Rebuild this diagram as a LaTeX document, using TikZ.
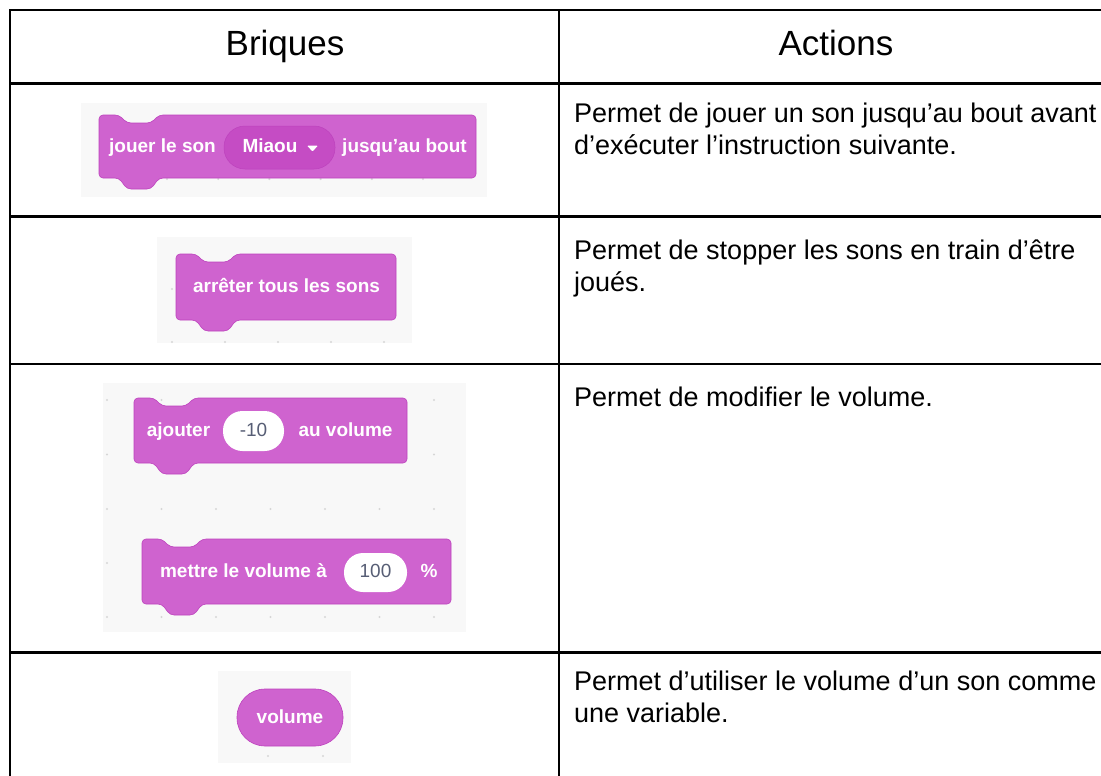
\documentclass[tikz,border=0pt]{standalone}
\usepackage{fontspec}
\setmainfont{Liberation Sans}

\definecolor{sndblock}{HTML}{CF63CF}
\definecolor{sndmenu}{HTML}{C54CC4}
\definecolor{sndedge}{HTML}{BD42BD}
\definecolor{inputtext}{HTML}{575E75}
\definecolor{canvas}{HTML}{F8F8F8}
\definecolor{griddot}{HTML}{D6D6D6}

\tikzset{
  rule/.style={line width=2.8pt, black},
  head/.style={font=\fontsize{35}{40}\selectfont, anchor=base, inner sep=0pt},
  action/.style={font=\fontsize{27}{32}\selectfont, anchor=base west, align=left, inner sep=0pt},
  blockbody/.style={fill=sndblock, draw=sndedge, line width=0.6pt, rounded corners=4pt},
  blocktext/.style={text=white, font=\bfseries\fontsize{19}{20}\selectfont, anchor=base, inner sep=0pt},
  inputtext/.style={text=inputtext, font=\fontsize{19}{20}\selectfont, anchor=base, inner sep=0pt}
}

% stack block: left, top, right, bottom
\newcommand{\stackblock}[4]{%
  \filldraw[blockbody] (#1,#2) -- ({#1+20},#2) -- ({#1+28},{#2+8}) -- ({#1+52},{#2+8})
    -- ({#1+60},#2) -- (#3,#2) -- (#3,#4) -- ({#1+60},#4) -- ({#1+52},{#4+11})
    -- ({#1+28},{#4+11}) -- ({#1+20},#4) -- (#1,#4) -- cycle;}

\begin{document}
\begin{tikzpicture}[x=1pt, y=-1pt]
    \useasboundingbox (0,0) rectangle (1101,776);

    % Table
    \draw[rule] (10,776) -- (10,10) -- (1101,10);
    \draw[rule] (559,10) -- (559,776);
    \foreach \y in {83.5,216.5,364,652.5}
        \draw[rule] (10,\y) -- (1101,\y);

    % Header
    \node[head] (briques) at (285,56) {Briques};
    \node[head] (actions) at (836,56) {Actions};

    % Canvas backgrounds
    \fill[canvas] (81,103) rectangle (487,197);
    \fill[canvas] (157,237) rectangle (412,343);
    \fill[canvas] (103,383) rectangle (466,632);
    \fill[canvas] (218,671) rectangle (351,763);

    % Grid dots
    \foreach \x in {167,218.2,269.4,320.6,371.8,423}
        \fill[griddot] (\x,179) circle (1.2);
    \foreach \x in {172,225,278,331,384}
        \fill[griddot] (\x,342) circle (1.2);
    \fill[griddot] (172,289) circle (1.2);
    \foreach \i in {0,...,6}
        \foreach \y in {400,454.5,509,563,617}
            \fill[griddot] ({107+54.5*\i},\y) circle (1.2);
    \foreach \x in {268,323}
        \fill[griddot] (\x,756) circle (1.2);

    % Row 1: jouer le son
    \stackblock{99}{115}{476}{178}
    \filldraw[fill=sndmenu, draw=sndedge, line width=0.5pt, rounded corners=21pt] (224,126) rectangle (335,169);
    \node[blocktext] (jouer) at (162.5,152) {jouer le son};
    \node[blocktext] (miaou) at (270,152) {Miaou};
    \fill[white, rounded corners=1pt] (307,145.5) -- (318,145.5) -- (312.5,151.5) -- cycle;
    \node[blocktext] (bout) at (404.5,152) {jusqu'au bout};

    % Row 2: arreter tous les sons
    \stackblock{176}{254}{396}{320}
    \node[blocktext] (arreter) at (286.5,292) {arrêter tous les sons};

    % Row 3: volume
    \stackblock{134}{398}{407}{463}
    \fill[white, rounded corners=19.5pt] (223,411) rectangle (284,451);
    \node[blocktext] (ajouter) at (178.5,436) {ajouter};
    \node[inputtext] (moins) at (253.5,436) {-10};
    \node[blocktext] (auvol) at (345.5,436) {au volume};

    \stackblock{142}{539}{451}{604}
    \fill[white, rounded corners=19pt] (344,553) rectangle (407,592);
    \node[blocktext] (mettre) at (243.5,577) {mettre le volume à};
    \node[inputtext] (cent) at (375.5,577) {100};
    \node[blocktext] (pourcent) at (429,577) {\%};

    % Row 4: reporter
    \filldraw[blockbody, rounded corners=28pt] (237,689) rectangle (343,746);
    \node[blocktext] (volume) at (290,723) {volume};

    % Actions (base = last line)
    \node[action] (act1) at (574,154) {Permet de jouer un son jusqu’au bout avant\\d’exécuter l’instruction suivante.};
    \node[action] (act2) at (574,291) {Permet de stopper les sons en train d’être\\joués.};
    \node[action] (act3) at (574,406) {Permet de modifier le volume.};
    \node[action] (act4) at (574,722) {Permet d’utiliser le volume d’un son comme\\une variable.};
\end{tikzpicture}
\end{document}
